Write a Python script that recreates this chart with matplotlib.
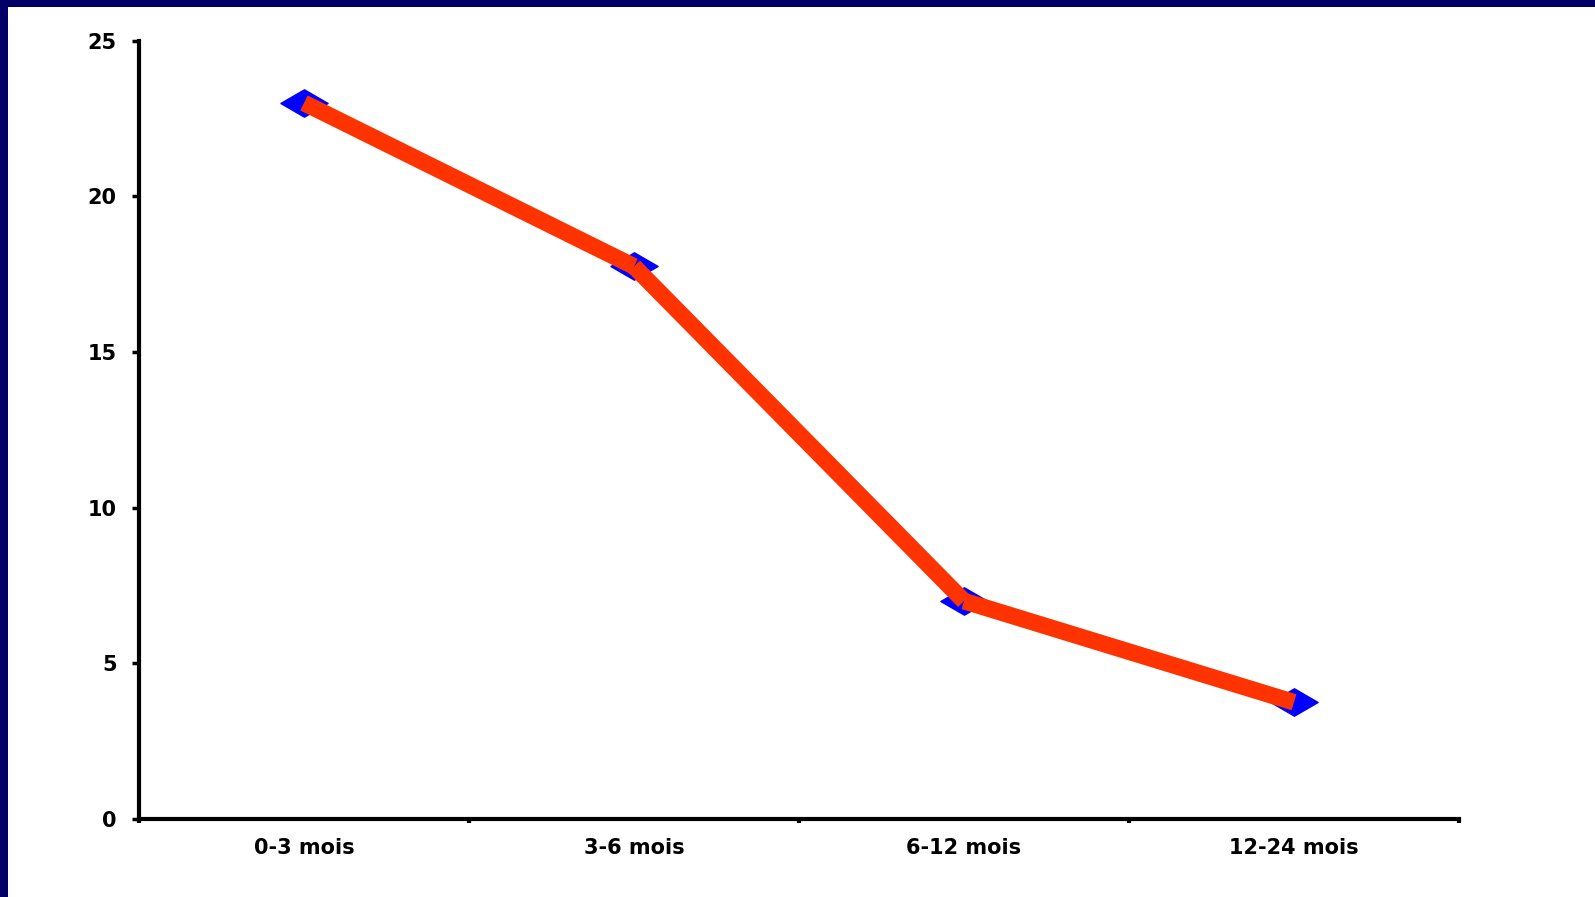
import matplotlib
matplotlib.use("Agg")
import matplotlib.pyplot as plt
from matplotlib.patches import Rectangle
from matplotlib.path import Path

categories = ["0-3 mois", "3-6 mois", "6-12 mois", "12-24 mois"]
values = [23.0, 17.75, 7.0, 3.75]
y_ticks = [0, 5, 10, 15, 20, 25]

plt.rcParams["font.family"] = ["DejaVu Sans"]
plt.rcParams["font.weight"] = "bold"

fig = plt.figure(figsize=(15.95, 8.97), dpi=100)
fig.patch.set_facecolor("white")
# navy frame along the left and top edges of the slide
fig.patches.append(Rectangle((0, 0), 8 / 1595, 1, transform=fig.transFigure,
                             facecolor="#000066", edgecolor="none", zorder=-10))
fig.patches.append(Rectangle((0, 1 - 7 / 897), 1, 7 / 897, transform=fig.transFigure,
                             facecolor="#000066", edgecolor="none", zorder=-10))

ax = fig.add_axes([139 / 1595, 1 - 819 / 897, (1459 - 139) / 1595, (819 - 40.7) / 897])
ax.set_facecolor("none")

# flattened diamond marker
diamond = Path([(-1, 0), (0, 0.58), (1, 0), (0, -0.58), (-1, 0)],
               [Path.MOVETO, Path.LINETO, Path.LINETO, Path.LINETO, Path.CLOSEPOLY])

x = list(range(len(categories)))
ax.plot(x, values, linestyle="none", marker=diamond, markersize=34,
        markerfacecolor="#0000FF", markeredgecolor="#0000FF", zorder=3)
# each segment drawn on its own, like the original chart
for i in range(len(x) - 1):
    ax.plot(x[i:i + 2], values[i:i + 2], color="#FF3300", linewidth=12,
            solid_capstyle="butt", zorder=4)

ax.set_xlim(-0.5, len(categories) - 0.5)
ax.set_ylim(0, 25)
ax.set_yticks(y_ticks)
ax.set_xticks(x)
ax.set_xticklabels(categories)
ax.set_xticks([i - 0.5 for i in range(len(categories) + 1)], minor=True)

for side in ["top", "right"]:
    ax.spines[side].set_visible(False)
for side in ["left", "bottom"]:
    ax.spines[side].set_linewidth(3)
    ax.spines[side].set_color("black")

ax.tick_params(axis="y", direction="out", length=5, width=2.5, pad=11, labelsize=15)
ax.tick_params(axis="x", which="major", length=0, pad=14, labelsize=15)
ax.tick_params(axis="x", which="minor", direction="out", length=3, width=3)

plt.savefig("out.png", dpi=100)
